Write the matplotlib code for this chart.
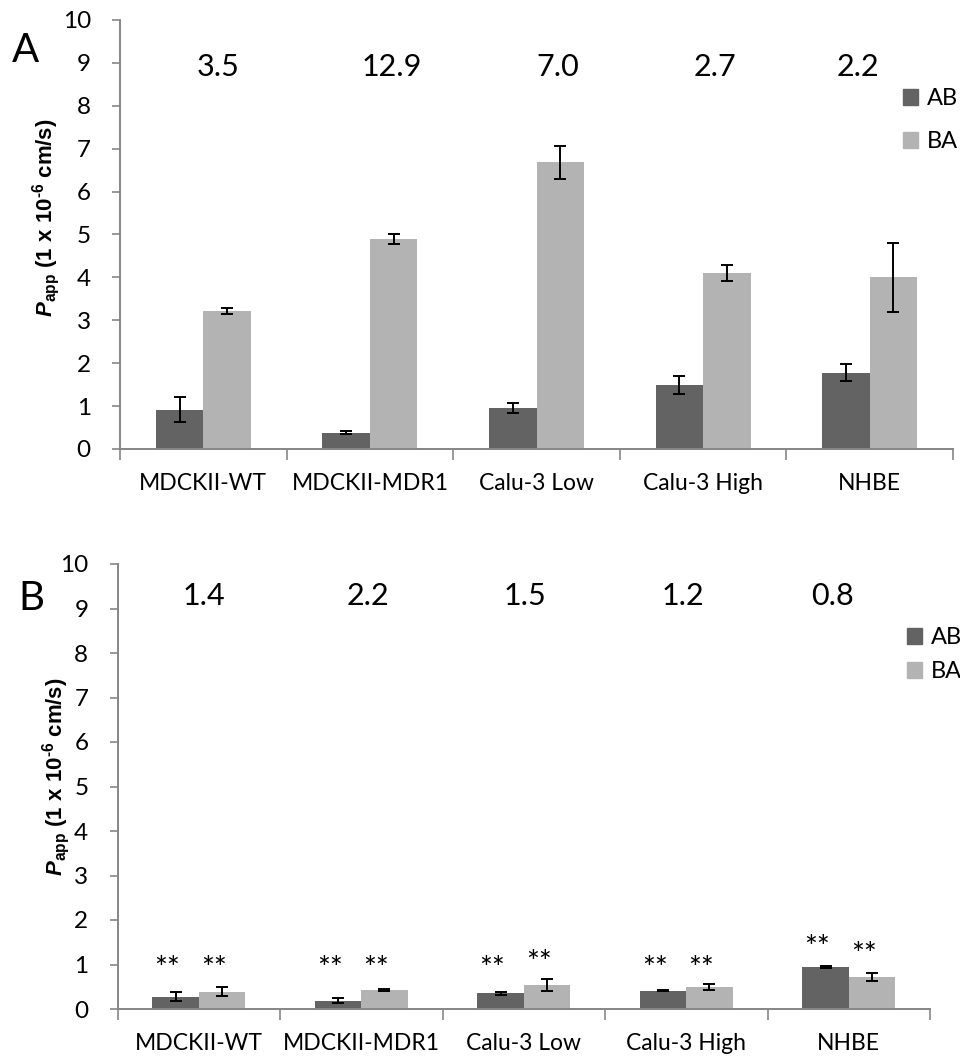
import matplotlib
matplotlib.use("Agg")
import matplotlib.pyplot as plt
from matplotlib.patches import Patch
import numpy as np

# ---- data -------------------------------------------------------------
cell_lines = ["MDCKII-WT", "MDCKII-MDR1", "Calu-3 Low", "Calu-3 High", "NHBE"]
series = ["AB", "BA"]

# Panel A
a_ab = [0.92, 0.38, 0.95, 1.50, 1.78]
a_ab_err = [0.30, 0.04, 0.12, 0.21, 0.19]
a_ba = [3.22, 4.90, 6.68, 4.10, 4.00]
a_ba_err = [0.07, 0.12, 0.38, 0.19, 0.80]
a_ratio = ["3.5", "12.9", "7.0", "2.7", "2.2"]

# Panel B
b_ab = [0.28, 0.19, 0.35, 0.41, 0.94]
b_ab_err = [0.11, 0.06, 0.03, 0.01, 0.02]
b_ba = [0.39, 0.42, 0.54, 0.49, 0.71]
b_ba_err = [0.10, 0.02, 0.13, 0.07, 0.09]
b_ratio = ["1.4", "2.2", "1.5", "1.2", "0.8"]
b_star_ab = [1.03, 1.03, 1.03, 1.03, 1.51]
b_star_ba = [1.03, 1.03, 1.17, 1.03, 1.36]

y_ticks = list(range(0, 11))

# ---- style ------------------------------------------------------------
FONT = "Lato"
plt.rcParams["font.family"] = [FONT, "DejaVu Sans"]
plt.rcParams["mathtext.fontset"] = "custom"
plt.rcParams["mathtext.rm"] = "Liberation Sans:bold"
plt.rcParams["mathtext.bf"] = "Liberation Sans:bold"
plt.rcParams["mathtext.it"] = "Liberation Sans:italic"
plt.rcParams["mathtext.bfit"] = "Liberation Sans:bold:italic"

C_AB = "#636363"
C_BA = "#b3b3b3"
AXIS_C = "#868686"
BAR_W = 0.285

fig = plt.figure(figsize=(9.6, 10.57), dpi=100)
W, H = 960, 1057


def px_axes(x0, x1, y_top, y_bot):
    return fig.add_axes([x0 / W, 1 - y_bot / H, (x1 - x0) / W, (y_bot - y_top) / H])


def draw_panel(ax, ab, ab_err, ba, ba_err, ratios, ratio_y, ratio_dx):
    x = np.arange(len(cell_lines))
    ax.bar(x - BAR_W / 2, ab, BAR_W, color=C_AB, label=series[0], zorder=2)
    ax.bar(x + BAR_W / 2, ba, BAR_W, color=C_BA, label=series[1], zorder=2)
    ekw = dict(fmt="none", ecolor="black", elinewidth=1.4, capsize=4.5,
               capthick=1.4, zorder=3)
    ax.errorbar(x - BAR_W / 2, ab, yerr=ab_err, **ekw)
    ax.errorbar(x + BAR_W / 2, ba, yerr=ba_err, **ekw)

    ax.set_xlim(-0.5, len(cell_lines) - 0.5)
    ax.set_ylim(0, 10)
    ax.set_yticks(y_ticks)
    ax.tick_params(axis="y", direction="out", length=6, width=1.2,
                   color=AXIS_C, labelsize=17.5, pad=15)

    # category boundaries as major ticks, names as minor tick labels
    ax.set_xticks(np.arange(-0.5, len(cell_lines), 1.0))
    ax.set_xticklabels([])
    ax.set_xticks(x, minor=True)
    ax.set_xticklabels(cell_lines, minor=True)
    ax.tick_params(axis="x", which="major", direction="out", length=8,
                   width=1.2, color=AXIS_C)
    ax.tick_params(axis="x", which="minor", length=0, labelsize=16.5, pad=17)

    for s in ("top", "right"):
        ax.spines[s].set_visible(False)
    for s in ("left", "bottom"):
        ax.spines[s].set_color(AXIS_C)
        ax.spines[s].set_linewidth(1.4)

    for i, (r, dx) in enumerate(zip(ratios, ratio_dx)):
        ax.text(i + dx, ratio_y, r, ha="center", va="center", fontsize=22)


ylabel = "$\\mathbfit{P}_{\\mathbf{app}}$ (1 x 10$^{\\mathbf{\u20106}}$ cm/s)"
LEG_KW = dict(loc="upper left", bbox_transform=fig.transFigure, frameon=False,
              fontsize=17, handlelength=0.65, handleheight=0.65,
              handletextpad=0.35, borderpad=0, borderaxespad=0)

# ---- panel A ----------------------------------------------------------
axA = px_axes(120, 953, 20, 449)
draw_panel(axA, a_ab, a_ab_err, a_ba, a_ba_err, a_ratio, 8.9,
           [0.09, 0.13, 0.13, 0.07, -0.07])
fig.text(46 / W, 1 - 218 / H, ylabel, rotation=90, ha="center", va="center",
         fontsize=16, fontweight="bold", family="Liberation Sans")
fig.text(26 / W, 1 - 51 / H, "A", ha="center", va="center", fontsize=29)
axA.legend(handles=[Patch(color=C_AB), Patch(color=C_BA)], labels=series,
           bbox_to_anchor=(903 / W, 1 - 88 / H), labelspacing=0.95, **LEG_KW)

# ---- panel B ----------------------------------------------------------
axB = px_axes(117.5, 930, 564, 1009)
draw_panel(axB, b_ab, b_ab_err, b_ba, b_ba_err, b_ratio, 9.27,
           [0.03, 0.04, 0.01, -0.02, -0.10])
xb = np.arange(len(cell_lines))
for i in range(len(cell_lines)):
    for xs, ys in ((xb[i] - BAR_W / 2 - 0.05, b_star_ab[i]),
                   (xb[i] + BAR_W / 2 - 0.05, b_star_ba[i])):
        axB.annotate("**", (xs, ys), xytext=(0, -11), textcoords="offset points",
                     ha="center", va="baseline", fontsize=22)
fig.text(56 / W, 1 - 777 / H, ylabel, rotation=90, ha="center", va="center",
         fontsize=16, fontweight="bold", family="Liberation Sans")
fig.text(31 / W, 1 - 598 / H, "B", ha="center", va="center", fontsize=29)
axB.legend(handles=[Patch(color=C_AB), Patch(color=C_BA)], labels=series,
           bbox_to_anchor=(907 / W, 1 - 627 / H), labelspacing=0.55, **LEG_KW)

fig.savefig("out.png", dpi=100)
